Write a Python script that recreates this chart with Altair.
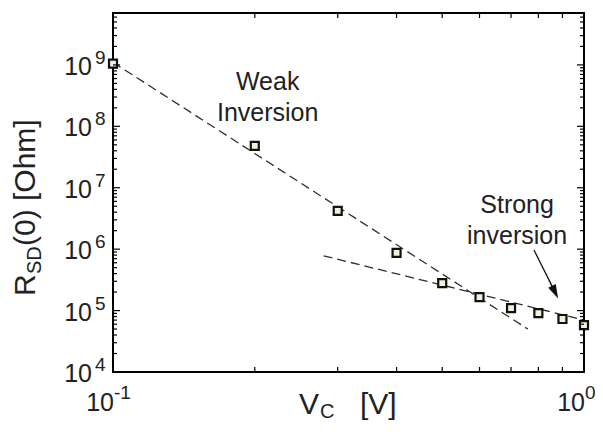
import altair as alt
import pandas as pd

FONT = "Liberation Sans"

# ---- data ----
vc = [0.1, 0.2, 0.3, 0.4, 0.5, 0.6, 0.7, 0.8, 0.9, 1.0]
rsd = [1.05e9, 4.8e7, 4.2e6, 8.7e5, 2.8e5, 1.66e5, 1.1e5, 9.1e4, 7.3e4, 5.8e4]

weak_fit_x = [0.1, 0.76]
weak_fit_y = [1.1e9, 5.0e4]
strong_fit_x = [0.28, 1.0]
strong_fit_y = [7.8e5, 7.0e4]

note_text = ["Weak\nInversion", "Strong\ninversion"]
note_x = [0.213, 0.721]
note_y = [5.25e8, 5.25e6]

arrow_x = [0.783, 0.868]
arrow_y = [9.7e5, 2.0e5]

y_major = [1e4, 1e5, 1e6, 1e7, 1e8, 1e9]
y_exp = ["4", "5", "6", "7", "8", "9"]
x_major = [0.1, 1.0]
x_exp = ["-1", "0"]
x_minor = [0.2, 0.3, 0.4, 0.5, 0.6, 0.7, 0.8, 0.9]
y_minor = [m * 10.0 ** k for k in range(4, 10) for m in range(2, 10) if m * 10.0 ** k < 7e9]

W, H = 471, 359
xs = alt.Scale(type="log", domain=[0.1, 1.0], nice=False)
ys = alt.Scale(type="log", domain=[1e4, 7e9], nice=False)

def X(f):
    return alt.X(f, type="quantitative", scale=xs, axis=None)

def Y(f):
    return alt.Y(f, type="quantitative", scale=ys, axis=None)

pts = pd.DataFrame({"vc": vc, "r": rsd})
fits = pd.DataFrame({
    "vc": weak_fit_x + strong_fit_x,
    "r": weak_fit_y + strong_fit_y,
    "fit": ["weak"] * 2 + ["strong"] * 2,
})
notes = pd.DataFrame({"vc": note_x, "r": note_y, "t": note_text})
arrow = pd.DataFrame({"vc": arrow_x, "r": arrow_y})
head = arrow.iloc[[-1]]

lines = alt.Chart(fits).mark_line(strokeDash=[9, 5], color="#2e2e2e", strokeWidth=1.3).encode(
    x=X("vc"), y=Y("r"), detail="fit:N")

markers = alt.Chart(pts).mark_point(
    shape="square", filled=True, fill="#f6f0d8", stroke="#111111", strokeWidth=2.2, size=64, opacity=1
).encode(x=X("vc"), y=Y("r"))

texts = alt.Chart(notes).mark_text(
    font=FONT, fontSize=25, color="#222222", align="center", baseline="middle",
    lineBreak="\n", lineHeight=31
).encode(x=X("vc"), y=Y("r"), text="t:N")

arrow_line = alt.Chart(arrow).mark_line(color="#111111", strokeWidth=1.3).encode(x=X("vc"), y=Y("r"))
arrow_head = alt.Chart(head).mark_point(
    shape="M0,-1L0.6,1L-0.6,1Z", filled=True, color="#111111", size=196, angle=154, opacity=1
).encode(x=X("vc"), y=Y("r"))

def yrule(vals, x0, x1):
    return alt.Chart(pd.DataFrame({"v": vals})).mark_rule(color="black", strokeWidth=1.2).encode(
        y=Y("v"), x=alt.value(x0), x2=alt.value(x1))

def xrule(vals, y0, y1):
    return alt.Chart(pd.DataFrame({"v": vals})).mark_rule(color="black", strokeWidth=1.2).encode(
        x=X("v"), y=alt.value(y0), y2=alt.value(y1))

ticks = [
    yrule(y_major, 0, 7), yrule(y_minor, 0, 4),
    yrule(y_major, W, W - 7), yrule(y_minor, W, W - 4),
    xrule(x_minor, H, H - 5), xrule(x_minor, 0, 5),
]

ylab = pd.DataFrame({"v": y_major, "b": ["10"] * len(y_major), "e": y_exp})
xlab = pd.DataFrame({"v": x_major, "b": ["10"] * len(x_major), "e": x_exp})

ylab_base = alt.Chart(ylab).mark_text(font=FONT, fontSize=25, color="#222222", align="right", baseline="middle", dy=2).encode(
    y=Y("v"), x=alt.value(-21), text="b:N")
ylab_exp = alt.Chart(ylab).mark_text(font=FONT, fontSize=19, color="#222222", align="left", baseline="middle", dy=-7).encode(
    y=Y("v"), x=alt.value(-18), text="e:N")
xlab_base = alt.Chart(xlab).mark_text(font=FONT, fontSize=25, color="#222222", align="right", baseline="middle", dx=1).encode(
    x=X("v"), y=alt.value(390), text="b:N")
xlab_exp = alt.Chart(xlab).mark_text(font=FONT, fontSize=19, color="#222222", align="left", baseline="middle", dx=1).encode(
    x=X("v"), y=alt.value(380), text="e:N")

# axis titles (with subscripts)
one = pd.DataFrame({"k": [0]})
def label(txt, x, y, size, angle=0):
    kw = dict(font=FONT, fontSize=size, color="#222222", align="left", baseline="alphabetic", text=txt)
    if angle:
        kw["angle"] = angle
    return alt.Chart(one).mark_text(**kw).encode(x=alt.value(x), y=alt.value(y))

titles = [
    label("V", 186, 401, 30), label("C", 207, 405, 20), label("[V]", 247, 401, 30),
    label("R", -78, 283, 30, 270), label("SD", -72, 261, 20, 270), label("(0) [Ohm]", -78, 233, 30, 270),
]

chart = alt.layer(
    lines, markers, texts, arrow_line, arrow_head, *ticks,
    ylab_base, ylab_exp, xlab_base, xlab_exp, *titles
).properties(
    width=W, height=H,
    autosize=alt.AutoSizeParams(type="none"),
    padding={"left": 105, "top": 5, "right": 11, "bottom": 50},
).configure_view(stroke="black", strokeWidth=2)

chart.save("out.html", embed_options={"renderer": "svg", "actions": False})
